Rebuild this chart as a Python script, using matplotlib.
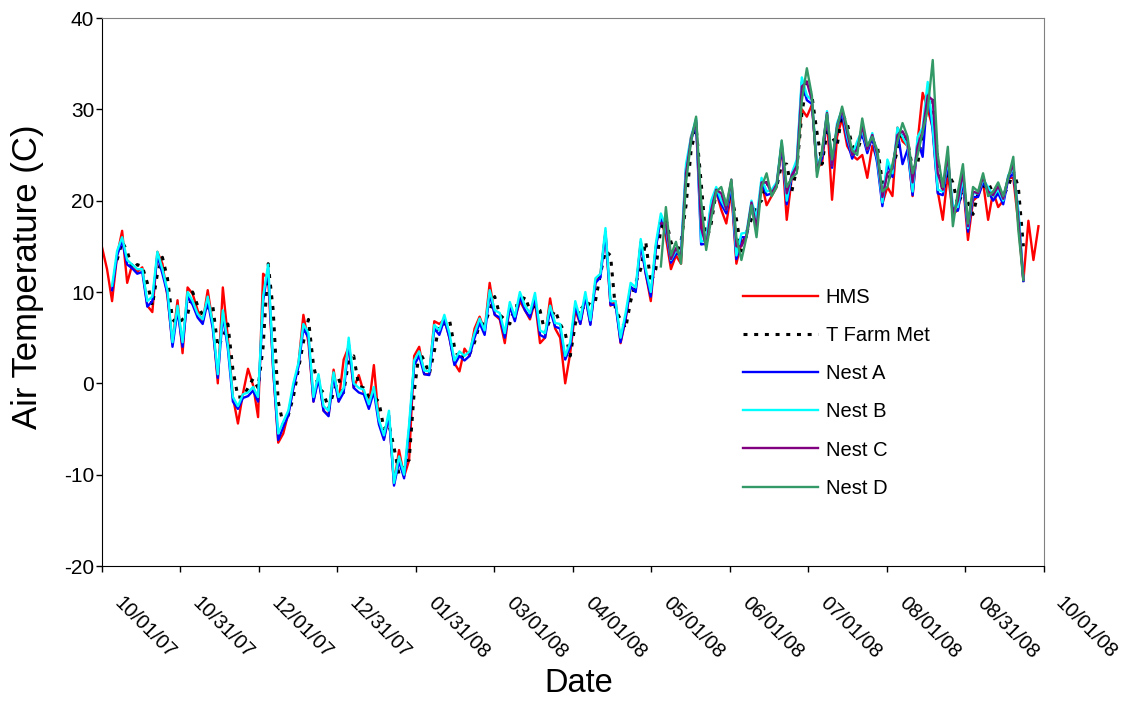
import numpy as np
import matplotlib
matplotlib.use("Agg")
import matplotlib.pyplot as plt
import matplotlib.transforms as mtransforms

plt.rcParams['font.family'] = ['Liberation Sans', 'DejaVu Sans']
plt.rcParams['axes.unicode_minus'] = False

# x axis is days since 10/01/07
tick_days = [0, 30.5, 61, 91.5, 122, 152.5, 183, 213.5, 244, 274.5, 305, 335.5, 366]
tick_labels = ["10/01/07", "10/31/07", "12/01/07", "12/31/07", "01/31/08", "03/01/08",
               "04/01/08", "05/01/08", "06/01/08", "07/01/08", "08/01/08", "08/31/08", "10/01/08"]

# readings were taken off the chart at a fixed spacing (just under 2 days);
# each series starts at its own reading index
step = 366 / 187

hms_first = 0
hms = [14.9, 12.5,
       9.0, 14.0, 16.7, 11.0, 13.0, 12.2, 12.7, 8.5, 7.8, 14.4,
       13.1, 9.5, 4.4, 9.1, 3.3, 10.5, 9.8, 8.0, 6.7, 10.2,
       6.5, 0.0, 10.5, 5.0, -1.5, -4.4, -1.1, 1.6, -0.2, -3.7,
       12.0, 11.5, 1.5, -6.5, -5.5, -3.3, -0.5, 2.0, 7.5, 4.5,
       -2.0, 0.8, -3.0, -3.5, 1.5, -2.0, 2.6, 4.0, -0.5, 0.9,
       -1.0, -2.5, 2.0, -4.2, -6.0, -3.5, -11.0, -7.3, -10.2, -8.4,
       3.0, 4.0, 1.0, 1.0, 6.8, 6.5, 7.0, 5.0, 2.2, 1.3,
       3.8, 3.0, 6.0, 7.3, 5.8, 11.0, 7.5, 7.0, 4.4, 8.5,
       7.0, 9.0, 8.0, 7.0, 9.0, 4.4, 5.0, 9.3, 6.0, 5.0,
       0.0, 3.3, 8.0, 6.5, 9.5, 6.5, 11.0, 12.0, 16.5, 8.5,
       9.0, 4.4, 7.0, 10.5, 10.2, 15.5, 12.0, 9.0, 15.0, 18.0,
       16.0, 12.5, 14.0, 13.1, 23.0, 27.0, 28.5, 18.3, 15.0, 19.0,
       21.0, 19.0, 17.5, 21.0, 13.1, 15.5, 16.0, 19.5, 17.5, 22.0,
       19.5, 20.5, 21.5, 26.0, 17.9, 22.5, 24.0, 30.0, 29.2, 30.5,
       23.7, 24.0, 29.0, 20.1, 27.0, 29.0, 26.0, 25.0, 24.5, 25.0,
       22.5, 26.0, 24.5, 19.7, 21.5, 20.5, 28.0, 26.5, 26.0, 20.5,
       26.5, 31.8, 30.0, 28.0, 21.0, 17.9, 23.0, 18.5, 19.0, 22.0,
       15.7, 20.0, 20.5, 22.0, 17.9, 21.0, 19.3, 20.0, 22.5, 22.5,
       17.5, 11.2, 17.8, 13.5, 17.2]

tfarm_first = 3
tfarm = [13.5, 15.5, 14.5, 12.5, 13.0, 12.8, 11.0, 8.5, 12.0,
         13.8, 11.5, 7.0, 6.5, 7.0, 7.5, 10.0, 8.5, 7.5, 8.5,
         8.5, 4.0, 5.0, 6.5, 1.5, -1.5, -1.5, -0.5, 0.5, -0.5,
         4.0, 13.1, 8.0, -2.0, -4.5, -3.5, -1.5, 1.5, 4.5, 7.0,
         2.0, -0.5, -1.0, -2.8, -1.0, 0.5, -1.0, 2.5, 3.0, -0.3,
         -0.5, -1.5, -1.5, -2.0, -5.0, -4.5, -7.0, -10.0, -8.5, -8.4,
         -1.0, 3.5, 2.5, 1.0, 3.5, 6.5, 6.5, 7.0, 4.0, 2.5,
         3.2, 3.2, 4.5, 6.5, 6.5, 8.0, 9.5, 7.5, 7.0, 6.5,
         8.5, 8.5, 9.5, 8.0, 8.5, 8.0, 5.5, 7.0, 8.0, 6.5,
         5.5, 3.0, 6.5, 8.5, 8.0, 9.0, 9.0, 12.0, 14.5, 14.0,
         8.0, 7.0, 6.0, 9.0, 11.0, 12.5, 15.5, 11.0, 12.5, 17.0,
         18.0, 15.5, 14.0, 15.5, 19.5, 25.5, 28.0, 22.0, 15.5, 17.5,
         21.0, 21.0, 19.5, 20.5, 18.0, 14.5, 16.5, 18.0, 19.5, 20.0,
         22.0, 21.0, 21.5, 24.0, 24.0, 21.0, 23.5, 29.5, 33.0, 31.5,
         27.5, 24.0, 27.5, 27.0, 26.0, 29.5, 28.5, 26.0, 25.5, 27.0,
         26.5, 26.5, 26.0, 22.0, 22.0, 23.5, 25.5, 27.5, 26.5, 23.5,
         24.0, 27.5, 30.5, 31.0, 24.5, 21.0, 23.0, 22.0, 19.5, 21.0,
         19.8, 18.5, 20.8, 21.5, 22.0, 20.8, 20.8, 20.6, 21.5, 23.2,
         21.5, 15.0]

nest_first = 2
nest_a = [10.2, 14.0, 15.6, 13.0, 12.6, 12.0, 12.2, 8.4, 9.0, 14.0,
          12.0, 9.8, 4.0, 8.0, 4.0, 9.5, 8.6, 7.2, 6.5, 9.0,
          6.0, 0.6, 7.5, 3.8, -2.0, -2.8, -1.6, -1.4, -0.8, -2.0,
          9.0, 12.6, 1.5, -6.2, -4.8, -3.5, -0.5, 1.8, 6.0, 5.0,
          -2.0, 0.5, -3.0, -3.6, 0.8, -2.0, -1.0, 4.5, -0.5, -1.0,
          -1.2, -2.8, -0.9, -4.5, -6.2, -3.5, -11.2, -8.5, -10.4, -5.0,
          2.0, 3.0, 1.0, 0.9, 6.0, 5.3, 7.0, 5.0, 2.0, 3.0,
          2.5, 3.0, 5.0, 6.6, 5.3, 9.8, 7.5, 7.2, 5.0, 8.4,
          6.8, 9.5, 8.0, 7.2, 9.4, 5.3, 5.0, 8.0, 6.2, 6.0,
          2.6, 4.0, 8.5, 6.5, 9.5, 6.4, 11.0, 11.6, 16.6, 8.6,
          8.6, 4.5, 7.2, 10.6, 10.0, 15.3, 12.0, 9.5, 14.8, 18.2,
          16.8, 13.2, 14.2, 14.0, 23.5, 26.6, 28.6, 15.2, 15.3, 19.6,
          21.0, 19.6, 18.6, 21.5, 13.6, 16.0, 16.0, 19.5, 17.5, 22.0,
          20.6, 20.8, 21.6, 26.0, 19.6, 22.6, 24.0, 33.0, 31.0, 30.6,
          23.6, 24.6, 29.4, 23.6, 28.0, 29.6, 26.6, 24.6, 26.0, 27.3,
          25.2, 27.0, 24.0, 19.4, 24.0, 22.6, 27.6, 24.0, 25.6, 20.6,
          26.6, 24.8, 32.0, 27.6, 20.8, 20.6, 24.0, 19.0, 18.9, 22.2,
          16.6, 20.4, 20.4, 22.0, 21.0, 20.0, 20.8, 19.6, 22.4, 23.0,
          18.6, 11.2]

nest_b = [10.7, 14.5, 16.0, 13.5, 13.0, 12.5, 12.5, 9.0, 9.5, 14.4,
          12.5, 10.2, 4.5, 8.5, 4.5, 10.0, 9.0, 7.6, 7.0, 9.5,
          6.5, 1.0, 8.0, 4.2, -1.5, -2.5, -1.2, -1.0, -0.4, -1.5,
          9.5, 13.0, 2.0, -5.5, -4.2, -3.0, 0.0, 2.2, 6.5, 5.5,
          -1.5, 1.0, -2.5, -3.0, 1.2, -1.5, -0.5, 5.0, 0.0, -0.5,
          -0.7, -2.3, -0.4, -4.0, -5.7, -3.0, -10.9, -8.0, -10.0, -4.5,
          2.5, 3.5, 1.4, 1.3, 6.4, 5.8, 7.5, 5.5, 2.5, 3.5,
          3.0, 3.5, 5.5, 7.1, 5.8, 10.2, 8.0, 7.7, 5.5, 8.9,
          7.3, 10.0, 8.5, 7.7, 9.9, 5.8, 5.5, 8.5, 6.6, 6.5,
          3.0, 4.5, 9.0, 7.0, 10.0, 6.9, 11.5, 12.0, 17.0, 9.0,
          9.0, 5.0, 7.7, 11.0, 10.5, 15.8, 12.5, 10.0, 15.3, 18.6,
          17.1, 13.5, 14.5, 14.5, 24.0, 27.0, 29.0, 15.5, 15.7, 20.0,
          21.5, 20.0, 19.0, 21.9, 14.0, 16.4, 16.5, 20.0, 18.0, 22.5,
          21.0, 21.2, 22.0, 26.5, 20.0, 23.0, 24.5, 33.5, 31.5, 31.0,
          24.0, 25.0, 29.8, 24.0, 28.5, 30.0, 27.0, 25.0, 26.5, 27.7,
          25.6, 27.4, 24.5, 19.8, 24.5, 23.0, 28.0, 27.0, 26.0, 21.0,
          27.0, 28.0, 33.0, 28.0, 21.2, 21.0, 24.5, 19.5, 19.3, 22.6,
          17.0, 20.8, 20.8, 22.3, 21.5, 20.5, 21.2, 20.0, 22.8, 23.5,
          19.0, 11.5]

late_first = 111
nest_c = [17.5, 17.5, 13.6, 14.8, 13.8, 23.0, 26.8, 28.8, 17.0, 15.0,
          19.0, 21.2, 20.8, 19.0, 22.3, 15.0, 15.0, 16.2, 19.8, 17.0,
          22.0, 22.0, 20.8, 21.8, 26.2, 20.8, 22.8, 23.8, 32.5, 33.0,
          31.0, 23.2, 25.2, 29.6, 23.8, 28.2, 30.0, 27.5, 25.0, 25.6,
          28.2, 25.6, 27.2, 25.0, 20.4, 23.0, 23.5, 27.2, 27.6, 26.5,
          22.0, 26.0, 27.6, 31.5, 31.0, 23.0, 21.2, 25.0, 18.5, 20.0,
          23.2, 17.2, 21.0, 20.8, 22.6, 21.0, 20.6, 21.6, 20.2, 22.6,
          24.0, 18.0, 11.4]

nest_d = [12.8, 19.3, 14.0, 15.5, 13.1, 22.0, 26.5, 29.2, 20.0, 14.6,
          18.0, 21.0, 21.5, 19.5, 22.3, 16.0, 13.5, 16.0, 19.5, 16.0,
          21.5, 23.0, 20.5, 21.5, 26.6, 21.5, 22.5, 23.0, 31.0, 34.5,
          31.5, 22.6, 25.5, 29.5, 24.5, 28.0, 30.3, 28.0, 25.5, 25.0,
          29.0, 26.0, 27.0, 25.5, 21.0, 21.5, 24.0, 26.5, 28.5, 27.0,
          23.0, 25.0, 27.5, 30.0, 35.4, 25.0, 21.5, 25.9, 17.2, 21.0,
          24.0, 17.5, 21.5, 21.0, 23.0, 20.5, 21.0, 22.0, 20.5, 22.5,
          24.8, 16.8, 11.3]


def days_for(first, vals):
    return (first + np.arange(len(vals))) * step


series = [
    ("HMS", hms_first, hms, dict(color="#FF0000", lw=1.7)),
    ("T Farm Met", tfarm_first, tfarm, dict(color="black", lw=2.2, linestyle=(0, (1.3, 2.2)))),
    ("Nest A", nest_first, nest_a, dict(color="#0000FF", lw=1.7)),
    ("Nest B", nest_first, nest_b, dict(color="#00FFFF", lw=1.7)),
    ("Nest C", late_first, nest_c, dict(color="#800080", lw=1.7)),
    ("Nest D", late_first, nest_d, dict(color="#339966", lw=1.7)),
]

fig = plt.figure(figsize=(11.26, 7.01), dpi=100)
ax = fig.add_axes([102 / 1126, 1 - 566 / 701, 941.5 / 1126, 548 / 701])

for name, first, vals, style in series:
    ax.plot(days_for(first, vals), vals, label=name, **style)

ax.set_xlim(0, 366)
ax.set_ylim(-20, 40)
ax.set_yticks(np.arange(-20, 41, 10))
ax.set_xticks(tick_days)
ax.set_xticklabels(tick_labels, rotation=-45, ha="left", va="top", rotation_mode="anchor")

ax.tick_params(axis="y", direction="out", length=4, width=1, pad=1.5, labelsize=15)
ax.tick_params(axis="x", direction="out", length=4, width=1, pad=16, labelsize=14.5)
offset = mtransforms.ScaledTranslation(22 / 100, 0, fig.dpi_scale_trans)
for lab in ax.get_xticklabels():
    lab.set_transform(lab.get_transform() + offset)

for side in ["top", "right"]:
    ax.spines[side].set_color("#808080")
for side in ["left", "bottom"]:
    ax.spines[side].set_color("black")

fig.text(28 / 1126, 1 - 277 / 701, "Air Temperature (C)", rotation=90,
         ha="center", va="center", fontsize=25)
fig.text(579 / 1126, 1 - 684 / 701, "Date", ha="center", va="center", fontsize=23.5)

ax.legend(frameon=False, loc="upper left", bbox_to_anchor=(743 / 1126, 1 - 288 / 701),
          bbox_transform=fig.transFigure, borderaxespad=0, borderpad=0,
          handlelength=3.7, handletextpad=0.4, labelspacing=0.95, fontsize=14.5)

fig.savefig("out.png", dpi=100)
